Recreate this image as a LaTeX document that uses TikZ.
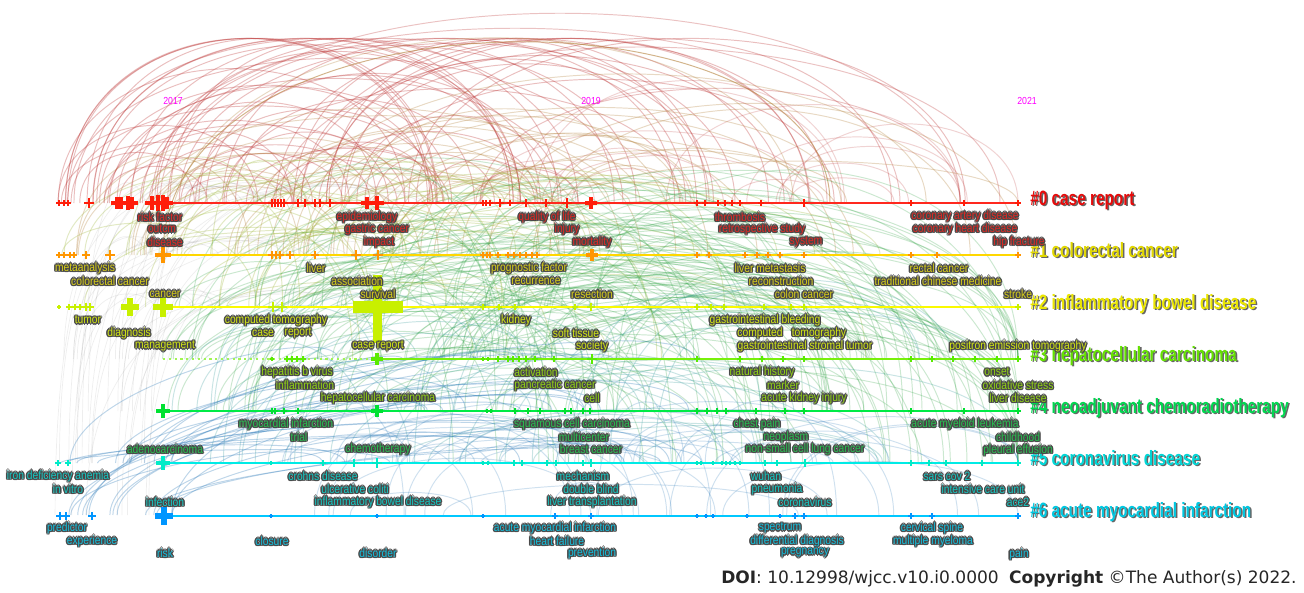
\documentclass[tikz,border=0pt]{standalone}
\usepackage{fontspec}
\setmainfont{Liberation Sans}
\newfontfamily\labfont[FakeStretch=0.86]{Liberation Sans}
\newfontfamily\clfont[FakeStretch=0.74]{Liberation Sans}
\newfontfamily\doifont{DejaVu Sans}

% 颜色
\definecolor{ln0}{RGB}{255,40,30}
\definecolor{ln1}{RGB}{255,215,0}
\definecolor{ln2}{RGB}{250,250,0}
\definecolor{ln3}{RGB}{120,240,10}
\definecolor{ln4}{RGB}{0,235,70}
\definecolor{ln5}{RGB}{0,235,230}
\definecolor{ln6}{RGB}{0,200,255}
\definecolor{mk0}{RGB}{255,30,10}
\definecolor{mk1}{RGB}{255,150,0}
\definecolor{mk2}{RGB}{200,240,0}
\definecolor{mk3}{RGB}{90,235,0}
\definecolor{mk4}{RGB}{0,225,50}
\definecolor{mk5}{RGB}{0,235,200}
\definecolor{mk6}{RGB}{0,150,255}
\definecolor{tx0}{RGB}{225,40,35}
\definecolor{tx1}{RGB}{215,205,25}
\definecolor{tx2}{RGB}{210,230,20}
\definecolor{tx3}{RGB}{145,210,20}
\definecolor{tx4}{RGB}{40,190,80}
\definecolor{tx5}{RGB}{20,200,195}
\definecolor{tx6}{RGB}{20,190,220}
\definecolor{cl0}{RGB}{230,10,10}
\definecolor{cl1}{RGB}{225,215,0}
\definecolor{cl2}{RGB}{235,230,0}
\definecolor{cl3}{RGB}{100,225,0}
\definecolor{cl4}{RGB}{0,215,80}
\definecolor{cl5}{RGB}{0,215,215}
\definecolor{cl6}{RGB}{0,200,225}
\definecolor{arcred}{RGB}{190,55,55}
\definecolor{arcbrown}{RGB}{180,130,60}
\definecolor{arcolive}{RGB}{160,185,60}
\definecolor{arcgreen}{RGB}{50,165,70}
\definecolor{arcteal}{RGB}{40,150,150}
\definecolor{arcblue}{RGB}{40,120,185}
\definecolor{halogray}{RGB}{70,70,70}
\definecolor{yearmag}{RGB}{255,0,255}

% 文字描边与阴影
\newcommand{\hc}[3]{\rlap{\kern#1\raisebox{#2}{\textcolor{halogray}{#3}}}}
\newcommand{\hlo}[1]{\hc{-.8pt}{0pt}{#1}\hc{.8pt}{0pt}{#1}\hc{0pt}{.8pt}{#1}\hc{0pt}{-.8pt}{#1}%
  \hc{-.56pt}{.56pt}{#1}\hc{.56pt}{.56pt}{#1}\hc{-.56pt}{-.56pt}{#1}\hc{.56pt}{-.56pt}{#1}#1}
\newcommand{\shd}[1]{\rlap{\kern.9pt\raisebox{-.9pt}{\textcolor{black!60}{#1}}}#1}

\begin{document}
\begin{tikzpicture}[x=0.02cm, y=-0.02cm,
    arcline/.style={line width=0.55pt, draw opacity=0.3},
    rowline/.style={line width=1.3pt},
    lab/.style={font=\labfont\fontsize{6.8}{7}\selectfont, inner sep=0pt},
    lab0/.style={lab, text=tx0}, lab1/.style={lab, text=tx1},
    lab2/.style={lab, text=tx2}, lab3/.style={lab, text=tx3},
    lab4/.style={lab, text=tx4}, lab5/.style={lab, text=tx5},
    lab6/.style={lab, text=tx6},
    clab/.style={font=\clfont\bfseries\fontsize{11.8}{13}\selectfont, inner sep=0pt, anchor=base west},
    yr/.style={font=\labfont\fontsize{5.8}{6}\selectfont, text=yearmag, inner sep=0pt}]
    \useasboundingbox (0,0) rectangle (1304,592);
    \fill[white] (0,0) rectangle (1304,592);

    % 绘制背景弧线
    \pgfmathsetseed{11}
    \begin{scope}
    \clip (0,0) rectangle (1020,592);
    % 灰色细线
    \foreach \i in {1,...,40}{
        \pgfmathsetmacro{\xa}{55+110*rnd}
        \pgfmathsetmacro{\ya}{359+52*int(3.99*rnd)}
        \pgfmathsetmacro{\xb}{\xa+60+260*rnd}
        \pgfmathsetmacro{\yb}{203+52*int(2.99*rnd)}
        \pgfmathsetmacro{\ca}{\ya-1.33*(\ya-\yb+12)}
        \pgfmathsetmacro{\cb}{\yb-16}
        \draw[line width=0.4pt, draw=gray, draw opacity=0.13] (\xa,\ya) .. controls (\xa,\ca) and (\xb,\cb) .. (\xb,\yb);
    }
    % 红色弧线
    \foreach \i in {1,...,62}{
        \pgfmathsetmacro{\xa}{58+520*rnd^1.8}
        \pgfmathsetmacro{\xb}{min(\xa+100+460*rnd,1000)}
        \pgfmathsetmacro{\h}{min((\xb-\xa)*(0.25+0.25*rnd),165)}
        \pgfmathsetmacro{\ca}{203-1.33*\h}
        \draw[arcline, arcred, draw opacity=0.32] (\xa,203) .. controls (\xa,\ca) and (\xb,\ca) .. (\xb,203);
    }
    \foreach \i in {1,...,16}{
        \pgfmathsetmacro{\xa}{480+320*rnd}
        \pgfmathsetmacro{\xb}{min(\xa+80+250*rnd,1018)}
        \pgfmathsetmacro{\h}{(\xb-\xa)*(0.2+0.2*rnd)}
        \pgfmathsetmacro{\ca}{203-1.33*\h}
        \draw[arcline, arcred, draw opacity=0.22] (\xa,203) .. controls (\xa,\ca) and (\xb,\ca) .. (\xb,203);
    }
    \draw[arcline, arcred] (160,203) .. controls (160,-50) and (960,-50) .. (960,203);
    \draw[arcline, arcred] (130,203) .. controls (130,-30) and (900,-30) .. (900,203);
    \draw[arcline, arcred] (280,203) .. controls (280,-5) and (1000,-5) .. (1000,203);
    \draw[arcline, arcred] (480,203) .. controls (480,50) and (960,50) .. (960,203);
    % 棕色弧线
    \foreach \i in {1,...,40}{
        \pgfmathsetmacro{\xa}{58+540*rnd}
        \pgfmathsetmacro{\xb}{min(\xa+150+500*rnd,1018)}
        \pgfmathsetmacro{\yb}{203+52*int(1.99*rnd)}
        \pgfmathsetmacro{\t}{203-(\xb-\xa)*(0.08+0.2*rnd)}
        \pgfmathsetmacro{\ca}{255-1.33*(255-\t)}
        \pgfmathsetmacro{\cb}{\yb-1.33*(\yb-\t)}
        \draw[arcline, arcbrown] (\xa,255) .. controls (\xa,\ca) and (\xb,\cb) .. (\xb,\yb);
    }
    \draw[arcline, arcbrown, draw opacity=0.6] (163,255) .. controls (163,-20) and (830,-20) .. (830,203);
    % 黄绿色弧线
    \foreach \i in {1,...,45}{
        \pgfmathsetmacro{\xa}{58+360*rnd}
        \pgfmathsetmacro{\ya}{255+52*int(1.99*rnd)}
        \pgfmathsetmacro{\xb}{min(\xa+80+420*rnd,1018)}
        \pgfmathsetmacro{\yb}{255+52*int(2.99*rnd)}
        \pgfmathsetmacro{\t}{min(\ya,\yb)-20-80*rnd}
        \pgfmathsetmacro{\ca}{\ya-1.33*(\ya-\t)}
        \pgfmathsetmacro{\cb}{\yb-1.33*(\yb-\t)}
        \draw[arcline, arcolive] (\xa,\ya) .. controls (\xa,\ca) and (\xb,\cb) .. (\xb,\yb);
    }
    % 绿色弧线
    \foreach \i in {1,...,130}{
        \pgfmathsetmacro{\xa}{160+460*rnd}
        \pgfmathsetmacro{\ya}{307+52*int(2.99*rnd)}
        \pgfmathsetmacro{\xb}{min(\xa+150+550*rnd,1018)}
        \pgfmathsetmacro{\yb}{359+52*int(2.99*rnd)}
        \pgfmathsetmacro{\t}{min(\ya,\yb)-40-110*rnd}
        \pgfmathsetmacro{\ca}{\ya-1.33*(\ya-\t)}
        \pgfmathsetmacro{\cb}{\yb-1.33*(\yb-\t)}
        \draw[arcline, arcgreen, draw opacity=0.25] (\xa,\ya) .. controls (\xa,\ca) and (\xb,\cb) .. (\xb,\yb);
    }
    % 青色弧线
    \foreach \i in {1,...,40}{
        \pgfmathsetmacro{\xa}{160+500*rnd}
        \pgfmathsetmacro{\ya}{411+52*int(1.99*rnd)}
        \pgfmathsetmacro{\xb}{min(\xa+100+400*rnd,1018)}
        \pgfmathsetmacro{\yb}{359+52*int(2.99*rnd)}
        \pgfmathsetmacro{\t}{min(\ya,\yb)-20-70*rnd}
        \pgfmathsetmacro{\ca}{\ya-1.33*(\ya-\t)}
        \pgfmathsetmacro{\cb}{\yb-1.33*(\yb-\t)}
        \draw[arcline, arcteal, draw opacity=0.25] (\xa,\ya) .. controls (\xa,\ca) and (\xb,\cb) .. (\xb,\yb);
    }
    % 蓝色弧线
    \foreach \i in {1,...,30}{
        \pgfmathsetmacro{\xa}{55+120*rnd}
        \pgfmathsetmacro{\ya}{463+52*int(1.99*rnd)}
        \pgfmathsetmacro{\xb}{\xa+200+350*rnd}
        \pgfmathsetmacro{\yb}{359+52*int(2.99*rnd)}
        \pgfmathsetmacro{\t}{min(\ya,\yb)-10-50*rnd}
        \pgfmathsetmacro{\ca}{\ya-0.6*(\ya-\t)}
        \pgfmathsetmacro{\cb}{\yb-1.33*(\yb-\t)}
        \draw[arcline, arcblue] (\xa,\ya) .. controls (\xa,\ca) and (\xb,\cb) .. (\xb,\yb);
    }
    \foreach \i in {1,...,40}{
        \pgfmathsetmacro{\xa}{270+530*rnd}
        \pgfmathsetmacro{\ya}{463+52*int(1.99*rnd)}
        \pgfmathsetmacro{\xb}{min(\xa+60+300*rnd,1018)}
        \pgfmathsetmacro{\yb}{463+52*int(1.99*rnd)}
        \pgfmathsetmacro{\t}{min(\ya,\yb)-15-50*rnd}
        \pgfmathsetmacro{\ca}{\ya-1.33*(\ya-\t)}
        \pgfmathsetmacro{\cb}{\yb-1.33*(\yb-\t)}
        \draw[arcline, arcblue, draw opacity=0.22] (\xa,\ya) .. controls (\xa,\ca) and (\xb,\cb) .. (\xb,\yb);
    }
    \end{scope}

    % 绘制年份
    \node[yr] (y2017) at (173,101) {2017};
    \node[yr] (y2019) at (591,101) {2019};
    \node[yr] (y2021) at (1027,101) {2021};

    % 绘制时间线
    \draw[rowline, ln0] (163,203) -- (1018,203);
    \draw[rowline, ln1] (163,255) -- (1018,255);
    \draw[rowline, ln2] (163,307) -- (1018,307);
    \draw[rowline, ln3!70, dotted] (163,359) -- (377,359);
    \draw[rowline, ln3] (377,359) -- (1018,359);
    \draw[rowline, ln4] (163,411) -- (1018,411);
    \draw[rowline, ln5] (163,463) -- (1018,463);
    \draw[rowline, ln6] (163,516) -- (1018,516);

    % 绘制节点标记
    \foreach \x/\s in {59/3,64/3,68/3,89/5,117/6,121/6,128/7,132/6,152/7,158/8,163/8,167/6,272/4,275/4,278/4,281/4,284/4,298/4,305/4,315/4,320/4,330/4,367/6,377/7,483/3,486/3,490/3,500/4,510/3,526/4,546/4,567/5,591/6,697/3,705/3,718/3,725/3,732/3,740/3,761/3,804/4,911/3,964/3,1018/3}
        \draw[draw=mk0, line width=\s*0.32pt] (\x-\s,203) -- (\x+\s,203) (\x,203-\s) -- (\x,203+\s);
    \foreach \x/\s in {59/3,64/3,70/3,74/3,86/4,110/5,163/8,272/4,276/4,280/4,290/4,315/4,356/5,378/5,483/3,487/3,490/3,498/3,508/3,514/3,520/3,526/3,532/3,537/3,592/6,697/3,709/3,745/3,757/3,768/3,780/3,804/3,911/3,937/3,1018/3}
        \draw[draw=mk1, line width=\s*0.32pt] (\x-\s,255) -- (\x+\s,255) (\x,255-\s) -- (\x,255+\s);
    \foreach \x/\s in {59/2,69/3,75/3,80/3,86/4,90/4,130/9,163/10,273/5,282/5,483/3,499/3,515/3,575/3,591/4,697/3,711/3,724/3,764/3,791/3,804/3,1018/3}
        \draw[draw=mk2, line width=\s*0.32pt] (\x-\s,307) -- (\x+\s,307) (\x,307-\s) -- (\x,307+\s);
    \fill[mk2] (353,301) rectangle (403,313);
    \fill[mk2] (373,275) rectangle (382,343);
    \foreach \x/\s in {272/2,287/3,292/3,297/3,303/3,377/6,483/2,488/2,498/3,508/3,513/3,519/3,526/3,535/3,554/3,592/5,697/3,740/3,762/3,783/3,804/3,911/3,932/3,953/3,975/3,997/3,1018/3}
        \draw[draw=mk3, line width=\s*0.32pt] (\x-\s,359) -- (\x+\s,359) (\x,359-\s) -- (\x,359+\s);
    \foreach \x/\s in {163/7,272/3,275/3,284/3,298/3,377/6,487/2,491/2,515/3,528/3,540/3,565/3,571/3,583/3,590/3,697/3,707/3,717/3,726/3,756/3,785/3,804/3,911/3,964/3,1018/3}
        \draw[draw=mk4, line width=\s*0.32pt] (\x-\s,411) -- (\x+\s,411) (\x,411-\s) -- (\x,411+\s);
    \foreach \x/\s in {58/3,68/3,163/7,271/2,323/3,354/4,377/5,483/2,488/2,514/3,522/3,547/3,556/3,583/3,591/4,697/2,701/2,713/2,722/2,726/2,730/2,735/2,740/2,765/3,777/3,805/4,911/3,929/3,946/3,982/3,1018/3}
        \draw[draw=mk5, line width=\s*0.32pt] (\x-\s,463) -- (\x+\s,463) (\x,463-\s) -- (\x,463+\s);
    \foreach \x/\s in {60/4,66/4,92/4,164/9,271/2,377/2,483/2,555/3,591/3,697/2,706/2,713/2,747/2,780/2,795/3,804/3,911/3,932/3,1018/3}
        \draw[draw=mk6, line width=\s*0.32pt] (\x-\s,516) -- (\x+\s,516) (\x,516-\s) -- (\x,516+\s);

    % 绘制聚类标签
    \node[clab, text=cl0] (c0) at (1030,205) {\shd{\#0 case report}};
    \node[clab, text=cl1] (c1) at (1030,257) {\shd{\#1 colorectal cancer}};
    \node[clab, text=cl2] (c2) at (1030,309) {\shd{\#2 inflammatory bowel disease}};
    \node[clab, text=cl3] (c3) at (1030,361) {\shd{\#3 hepatocellular carcinoma}};
    \node[clab, text=cl4] (c4) at (1030,413) {\shd{\#4 neoadjuvant chemoradiotherapy}};
    \node[clab, text=cl5] (c5) at (1030,465) {\shd{\#5 coronavirus disease}};
    \node[clab, text=cl6] (c6) at (1030,517) {\shd{\#6 acute myocardial infarction}};

    % 绘制关键词标签 #0
    \node[lab0] (riskfactor) at (160,217) {\hlo{risk factor}};
    \node[lab0] (outcm) at (162,229) {\hlo{outcm}};
    \node[lab0] (disease) at (165,242) {\hlo{disease}};
    \node[lab0] (epidemiology) at (367,217) {\hlo{epidemiology}};
    \node[lab0] (gastric) at (377,229) {\hlo{gastric cancer}};
    \node[lab0] (impact) at (379,242) {\hlo{impact}};
    \node[lab0] (quality) at (547,217) {\hlo{quality of life}};
    \node[lab0] (injury) at (567,229) {\hlo{injury}};
    \node[lab0] (mortality) at (592,242) {\hlo{mortality}};
    \node[lab0] (thrombosis) at (740,217) {\hlo{thrombosis}};
    \node[lab0] (retro) at (762,229) {\hlo{retrospective study}};
    \node[lab0] (system) at (806,242) {\hlo{system}};
    \node[lab0] (cad) at (965,216) {\hlo{coronary artery disease}};
    \node[lab0] (chd) at (965,229) {\hlo{coronary heart disease}};
    \node[lab0] (hip) at (1019,242) {\hlo{hip fracture}};

    % #1
    \node[lab1] (meta) at (85,268) {\hlo{metaanalysis}};
    \node[lab1] (crc) at (110,281) {\hlo{colorectal cancer}};
    \node[lab1] (cancer) at (165,294) {\hlo{cancer}};
    \node[lab1] (liver) at (316,268) {\hlo{liver}};
    \node[lab1] (assoc) at (357,281) {\hlo{association}};
    \node[lab1] (survival) at (378,294) {\hlo{survival}};
    \node[lab1] (prognostic) at (529,268) {\hlo{prognostic factor}};
    \node[lab1] (recurrence) at (536,281) {\hlo{recurrence}};
    \node[lab1] (resection) at (592,294) {\hlo{resection}};
    \node[lab1] (livermet) at (770,268) {\hlo{liver metastasis}};
    \node[lab1] (recon) at (781,281) {\hlo{reconstruction}};
    \node[lab1] (colon) at (804,294) {\hlo{colon cancer}};
    \node[lab1] (rectal) at (939,268) {\hlo{rectal cancer}};
    \node[lab1] (tcm) at (938,281) {\hlo{traditional chinese medicine}};
    \node[lab1] (stroke) at (1018,294) {\hlo{stroke}};

    % #2
    \node[lab2] (tumor) at (88,320) {\hlo{tumor}};
    \node[lab2] (diagnosis) at (129,333) {\hlo{diagnosis}};
    \node[lab2] (management) at (165,346) {\hlo{management}};
    \node[lab2] (ct) at (276,320) {\hlo{computed tomography}};
    \node[lab2] (case) at (263,333) {\hlo{case}};
    \node[lab2] (report) at (298,333) {\hlo{report}};
    \node[lab2] (casereport) at (378,346) {\hlo{case report}};
    \node[lab2] (kidney) at (516,320) {\hlo{kidney}};
    \node[lab2] (softtissue) at (576,333) {\hlo{soft tissue}};
    \node[lab2] (society) at (592,346) {\hlo{society}};
    \node[lab2] (gibleed) at (765,320) {\hlo{gastrointestinal bleeding}};
    \node[lab2] (computed) at (760,333) {\hlo{computed}};
    \node[lab2] (tomography) at (819,333) {\hlo{tomography}};
    \node[lab2] (gist) at (805,346) {\hlo{gastrointestinal stromal tumor}};
    \node[lab2] (pet) at (1018,346) {\hlo{positron emission tomography}};

    % #3
    \node[lab3] (hbv) at (297,372) {\hlo{hepatitis b virus}};
    \node[lab3] (inflammation) at (305,385) {\hlo{inflammation}};
    \node[lab3] (hcc) at (378,398) {\hlo{hepatocellular carcinoma}};
    \node[lab3] (activation) at (536,372) {\hlo{activation}};
    \node[lab3] (pancreatic) at (555,385) {\hlo{pancreatic cancer}};
    \node[lab3] (cell) at (592,398) {\hlo{cell}};
    \node[lab3] (natural) at (762,372) {\hlo{natural history}};
    \node[lab3] (marker) at (783,385) {\hlo{marker}};
    \node[lab3] (aki) at (804,398) {\hlo{acute kidney injury}};
    \node[lab3] (onset) at (997,372) {\hlo{onset}};
    \node[lab3] (oxidative) at (1018,385) {\hlo{oxidative stress}};
    \node[lab3] (liverdis) at (1018,398) {\hlo{liver disease}};

    % #4
    \node[lab4] (mi) at (286,424) {\hlo{myocardial infarction}};
    \node[lab4] (trial) at (299,437) {\hlo{trial}};
    \node[lab4] (adeno) at (165,449) {\hlo{adenocarcinoma}};
    \node[lab4] (chemo) at (378,449) {\hlo{chemotherapy}};
    \node[lab4] (scc) at (572,424) {\hlo{squamous cell carcinoma}};
    \node[lab4] (multicenter) at (584,437) {\hlo{multicenter}};
    \node[lab4] (breast) at (591,449) {\hlo{breast cancer}};
    \node[lab4] (chestpain) at (757,424) {\hlo{chest pain}};
    \node[lab4] (neoplasm) at (786,437) {\hlo{neoplasm}};
    \node[lab4] (nsclc) at (805,449) {\hlo{non-small cell lung cancer}};
    \node[lab4] (aml) at (965,424) {\hlo{acute myeloid leukemia}};
    \node[lab4] (childhood) at (1018,437) {\hlo{childhood}};
    \node[lab4] (pleural) at (1018,450) {\hlo{pleural effusion}};

    % #5
    \node[lab5] (iron) at (58,476) {\hlo{iron deficiency anemia}};
    \node[lab5] (invitro) at (68,489) {\hlo{in vitro}};
    \node[lab5] (infection) at (165,502) {\hlo{infection}};
    \node[lab5] (crohns) at (323,476) {\hlo{crohns disease}};
    \node[lab5] (uc) at (355,489) {\hlo{ulcerative coliti}};
    \node[lab5] (ibd) at (378,502) {\hlo{inflammatory bowel disease}};
    \node[lab5] (mechanism) at (583,476) {\hlo{mechanism}};
    \node[lab5] (doubleblind) at (591,489) {\hlo{double blind}};
    \node[lab5] (livertx) at (592,502) {\hlo{liver transplantation}};
    \node[lab5] (wuhan) at (766,476) {\hlo{wuhan}};
    \node[lab5] (pneumonia) at (777,489) {\hlo{pneumonia}};
    \node[lab5] (coronavirus) at (805,502) {\hlo{coronavirus}};
    \node[lab5] (sars) at (947,476) {\hlo{sars cov 2}};
    \node[lab5] (icu) at (983,489) {\hlo{intensive care unit}};
    \node[lab5] (ace) at (1018,502) {\hlo{ace2}};

    % #6
    \node[lab6] (predictor) at (67,528) {\hlo{predictor}};
    \node[lab6] (experience) at (92,541) {\hlo{experience}};
    \node[lab6] (risk) at (165,553) {\hlo{risk}};
    \node[lab6] (closure) at (272,541) {\hlo{closure}};
    \node[lab6] (disorder) at (378,553) {\hlo{disorder}};
    \node[lab6] (ami) at (555,528) {\hlo{acute myocardial infarction}};
    \node[lab6] (heartfail) at (557,541) {\hlo{heart failure}};
    \node[lab6] (prevention) at (592,553) {\hlo{prevention}};
    \node[lab6] (spectrum) at (780,528) {\hlo{spectrum}};
    \node[lab6] (diffdiag) at (797,541) {\hlo{differential diagnosis}};
    \node[lab6] (pregnancy) at (805,553) {\hlo{pregnancy}};
    \node[lab6] (cervical) at (932,528) {\hlo{cervical spine}};
    \node[lab6] (myeloma) at (933,541) {\hlo{multiple myeloma}};
    \node[lab6] (pain) at (1019,554) {\hlo{pain}};

    % 版权信息
    \node[anchor=east, inner sep=0pt, text=black!85, font=\doifont\fontsize{9.7}{11}\selectfont] (doi) at (1297,579)
        {\textbf{DOI}: 10.12998/wjcc.v10.i0.0000\hspace{0.6em}\textbf{Copyright} ©The Author(s) 2022.};
\end{tikzpicture}
\end{document}
